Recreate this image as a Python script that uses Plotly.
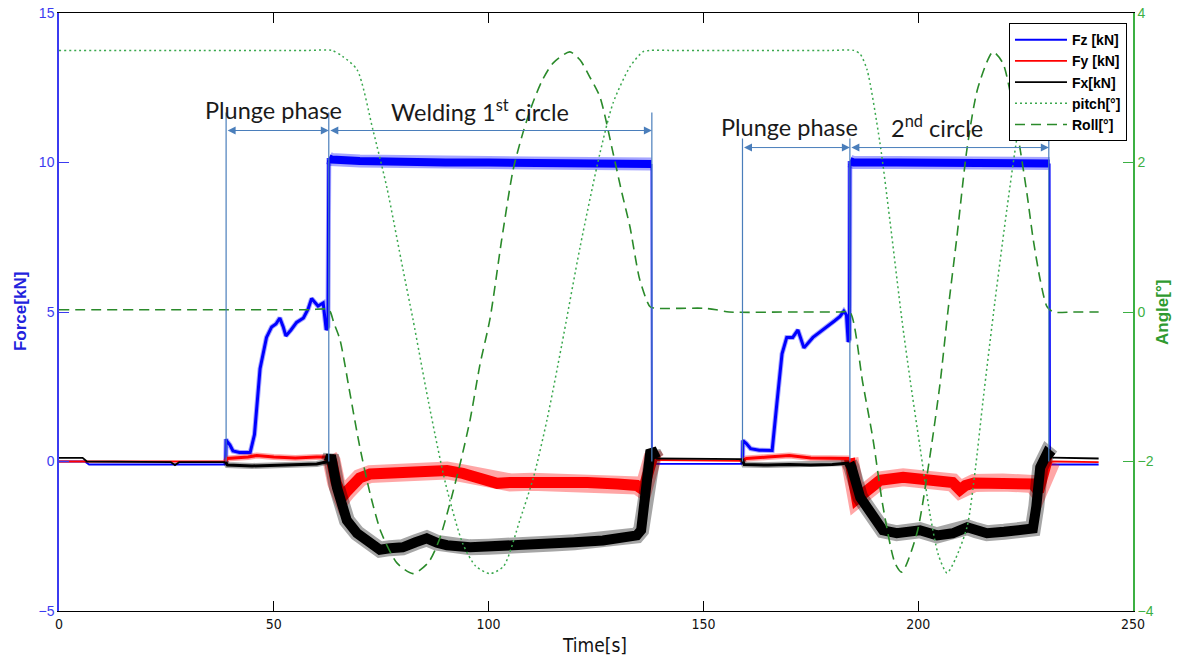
import plotly.graph_objects as go

# ---------------- data ----------------
fz_t = [0, 6, 7, 38.8, 38.9, 39.0, 39.8, 40.5, 42, 44.5, 45.5, 46, 46.8, 48.3, 49.5, 50.5,
        51.4, 52.2, 52.8, 54, 55.3, 56.9, 58, 58.8, 60.3, 61.5, 62.2, 62.6, 62.8, 63.5, 70,
        80, 90, 100, 110, 120, 130, 137.9, 138.0, 138.2, 150, 159.1, 159.2, 160, 161, 163,
        166, 167.1, 168.3, 169.4, 170.8, 172, 173.4, 175.5, 178.8, 180.5, 181.8, 182.7,
        183.3, 183.7, 184.0, 184.1, 185, 195, 205, 215, 225, 230.6, 230.7, 230.9, 242]
fz_v = [0.0, 0.0, -0.1, -0.1, 0.75, 0.7, 0.55, 0.35, 0.3, 0.3, 0.9, 1.8, 3.1, 4.15, 4.5, 4.6,
        4.8, 4.5, 4.2, 4.4, 4.65, 4.8, 5.1, 5.45, 5.2, 5.3, 4.4, 4.5, 10.15, 10.1, 10.05,
        10.0, 10.0, 10.0, 9.98, 9.98, 9.97, 9.95, -0.05, -0.08, -0.08, -0.08, 0.7, 0.6, 0.43, 0.38,
        0.37, 1.94, 3.6, 4.15, 4.15, 4.4, 3.8, 4.15, 4.5, 4.7, 4.85, 5.03,
        4.9, 4.0, 4.1, 10.05, 10.0, 10.0, 9.98, 9.98, 9.97, 9.97, -0.05, -0.1, -0.1]

fy_t = [0, 38.8, 39.2, 44, 46, 50, 55, 60, 62.8, 63.5, 64.5, 65.9, 67, 68.5, 70, 72.4, 76, 80,
        85, 90.3, 94, 97.3, 100, 102, 105, 110, 115, 123, 130, 134.5, 136, 138.3, 139, 159,
        160, 165, 170, 175, 180, 184.0, 184.5, 185.7, 187, 188.8, 191.1, 196.5, 202, 208,
        209.7, 211, 213, 219.7, 226.7, 228, 230, 231, 242]
fy_v = [0.0, 0.0, 0.1, 0.15, 0.2, 0.15, 0.12, 0.15, 0.15, 0.0, -0.7, -1.2, -1.0, -0.73, -0.55,
        -0.42, -0.38, -0.4, -0.35, -0.3, -0.4, -0.53, -0.65, -0.73, -0.7, -0.68, -0.7, -0.7,
        -0.75, -0.8, -0.95, 0.2, 0.05, 0.02, 0.1, 0.15, 0.2, 0.12, 0.1, 0.1, -0.3, -1.25, -1.1,
        -0.87, -0.63, -0.53, -0.6, -0.7, -0.95, -0.8, -0.72, -0.7, -0.75, -1.0, 0.03, 0.0, -0.02]

fx_t = [0, 5.5, 6.5, 26, 27, 28, 38.8, 39.2, 45, 50, 55, 60, 62.8, 63.3, 64.7, 67, 69.4, 72.4,
        74.7, 77, 80, 83, 85.6, 88, 90.3, 95.7, 100, 103.4, 110, 115, 120, 126.6, 132, 134.5,
        135.5, 137.6, 138.3, 139, 159, 159.5, 165, 170, 175, 180, 184.0, 184.5, 186.5, 188.8,
        191.8, 195, 200.4, 204.4, 208, 211.4, 213.5, 216, 220, 223.7, 226.7, 227.5, 228.4,
        230, 231.2, 242]
fx_v = [0.12, 0.12, 0.0, -0.02, -0.12, -0.02, -0.02, -0.12, -0.15, -0.12, -0.1, -0.08, 0.0, 0.2,
        -0.87, -1.97, -2.4, -2.74, -2.95, -2.9, -2.87, -2.7, -2.57, -2.72, -2.8, -2.87, -2.85,
        -2.8, -2.77, -2.74, -2.7, -2.64, -2.55, -2.47, -2.3, 0.27, 0.3, 0.1, 0.08, -0.1, -0.12,
        -0.1, -0.12, -0.1, -0.05, -0.2, -1.2, -1.64, -2.3, -2.4, -2.3, -2.47, -2.4, -2.2, -2.3,
        -2.4, -2.35, -2.3, -2.24, -1.5, -0.2, 0.27, 0.13, 0.1]

pitch_t = [0, 30, 58, 63.5, 66, 69.4, 73.1, 76.3, 80.1, 82.4, 86, 90, 94, 97, 100.3, 103.5,
           107.3, 110.5, 113.6, 117, 121.3, 125.9, 129, 132.9, 135.9, 137.5, 142, 160, 180, 185,
           186.5, 188.1, 191.1, 193.4, 196.2, 198.1, 200.4, 202.7, 204.7, 206.7, 208.7, 211.4,
           213.3, 215.1, 217.9, 220.7, 223, 225.3, 227.3, 229, 234, 242]
pitch_v = [3.5, 3.5, 3.5, 3.5, 3.42, 3.24, 2.43, 1.67, 0.56, -0.1, -1.2, -2.3, -3.1, -3.4, -3.5,
           -3.4, -2.78, -2.2, -1.44, -0.45, 0.87, 2.12, 2.8, 3.28, 3.48, 3.5, 3.5, 3.5, 3.5, 3.5,
           3.45, 3.24, 2.26, 1.23, -0.1, -0.9, -1.8, -2.69, -3.25, -3.49, -3.3, -2.87,
           -2.1, -1.18, 0.16, 1.4, 2.34, 3.1, 3.45, 3.5, 3.5, 3.5]

roll_t = [0, 30, 58, 62.8, 64, 65.4, 67.7, 70, 72.5, 75, 78.7, 82.4, 86, 88.5, 91, 93.5, 95.7,
          98, 100.3, 103, 105.7, 108, 110.3, 112.5, 115, 118.9, 121.3, 123.5, 125.9, 129, 131,
          132.9, 135.2, 137.6, 139, 150, 153, 156, 170, 182, 184.1, 187.1, 189.5, 191.8, 194.6,
          196.2, 199.7, 202.7, 205.1, 206.9, 209, 211.4, 213.9, 217.4, 219.7, 222.5, 225.3,
          226.7, 228.4, 230, 231.5, 236, 242]
roll_v = [0.03, 0.03, 0.03, 0.03, -0.15, -0.37, -1.08, -1.8, -2.45, -2.95, -3.36, -3.5, -3.35,
          -3.05, -2.56, -2.0, -1.44, -0.7, -0.1, 0.95, 1.9, 2.4, 2.8, 3.1, 3.33, 3.48, 3.37,
          3.15, 2.88, 2.12, 1.6, 1.14, 0.43, 0.07, 0.05, 0.05, 0.03, 0.0, 0.0, 0.0, 0.0, -0.95,
          -1.71, -2.6, -3.36, -3.48, -2.96, -1.94, -0.95, 0.0, 1.0, 2.2, 3.0, 3.48, 3.33, 2.6,
          1.59, 1.0, 0.43, 0.07, 0.0, 0.0, 0.0]

# phase boundaries (s) and annotation labels
phase_t = [38.9, 62.8, 138.0, 159.1, 184.1, 230.4]
phase_labels = ["Plunge phase", "Welding 1<sup>st</sup> circle", "Plunge phase",
                "2<sup>nd</sup> circle"]
x_ticks = [0, 50, 100, 150, 200, 250]
y_ticks = [-5, 0, 5, 10, 15]
y2_ticks = [-4, -2, 0, 2, 4]

# ---------------- styles ----------------
BLUE = "rgba(0,0,255,{a})"
RED = "rgba(255,0,0,{a})"
BLACK = "rgba(0,0,0,{a})"
PITCH_C = "#3aa84e"
ROLL_C = "#2a8a2a"
AXIS_BLUE = "#3b3bf0"
AXIS_GREEN = "#3cb043"
ANN_C = "#4a7ebb"

# (t0, t1, core width, halo width)
fz_seg = [(0, 38.8, 1.8, 0), (38.8, 62.8, 3, 5), (62.8, 137.9, 8, 13), (137.9, 159.1, 1.8, 0),
          (159.1, 184.1, 3, 5), (184.1, 230.6, 8, 13), (230.6, 242, 1.8, 0)]
fy_seg = [(0, 38.8, 1.8, 0), (38.8, 62.8, 3, 6), (62.8, 139, 11, 18), (139, 159, 1.8, 0),
          (159, 184.0, 3, 6), (184.0, 231, 11, 18), (231, 242, 1.8, 0)]
fx_seg = [(0, 38.8, 1.8, 0), (38.8, 62.8, 3, 6), (62.8, 139, 10, 16), (139, 159, 1.8, 0),
          (159, 184.0, 3, 6), (184.0, 231.2, 10, 16), (231.2, 242, 1.8, 0)]

fig = go.Figure()


def add_segments(t, v, segs, name, color):
    first = True
    for (t0, t1, w, halo) in segs:
        xs = [a for a in t if t0 <= a <= t1]
        ys = [b for a, b in zip(t, v) if t0 <= a <= t1]
        if halo:
            fig.add_trace(go.Scatter(x=xs, y=ys, mode="lines", name=name, legendgroup=name,
                                     showlegend=False,
                                     line=dict(color=color.format(a=0.35), width=halo),
                                     hoverinfo="skip"))
        fig.add_trace(go.Scatter(x=xs, y=ys, mode="lines", name=name, legendgroup=name,
                                 showlegend=first, line=dict(color=color.format(a=1), width=w),
                                 hoverinfo="skip"))
        first = False


add_segments(fz_t, fz_v, fz_seg, "Fz [kN]", BLUE)
add_segments(fy_t, fy_v, fy_seg, "Fy [kN]", RED)
add_segments(fx_t, fx_v, fx_seg, "Fx[kN]", BLACK)

fig.add_trace(go.Scatter(x=pitch_t, y=pitch_v, mode="lines", name="pitch[°]", yaxis="y2",
                         line=dict(color=PITCH_C, width=1.5, dash="2px,3px", shape="spline",
                                   smoothing=0.7)))
fig.add_trace(go.Scatter(x=roll_t, y=roll_v, mode="lines", name="Roll[°]", yaxis="y2",
                         line=dict(color=ROLL_C, width=1.6, dash="10px,6px", shape="spline",
                                   smoothing=0.7)))

# phase boundary lines
tops = [11.67, 11.67, 11.67, 10.8, 10.8, 10.8]
shapes = []
for tx, top in zip(phase_t, tops):
    shapes.append(dict(type="line", xref="x", yref="y", x0=tx, x1=tx, y0=0, y1=top,
                       line=dict(color=ANN_C, width=1.2)))

annotations = []
arrow_rows = [(phase_t[0], phase_t[1], 11.07), (phase_t[1], phase_t[2], 11.07),
              (phase_t[3], phase_t[4], 10.5), (phase_t[4], phase_t[5], 10.5)]
for a0, a1, ay in arrow_rows:
    annotations.append(dict(x=a1, y=ay, ax=a0, ay=ay, xref="x", yref="y", axref="x",
                            ayref="y", text="", showarrow=True, arrowhead=2,
                            startarrowhead=2, arrowside="end+start", arrowsize=1.6,
                            startarrowsize=1.6, arrowwidth=1, arrowcolor=ANN_C))

label_pos = [(50.0, 11.74), (98.0, 11.74), (170.0, 11.2), (204.4, 11.2)]
for (lx, ly), txt in zip(label_pos, phase_labels):
    annotations.append(dict(x=lx, y=ly, xref="x", yref="y", text=txt, showarrow=False,
                            xanchor="center", yanchor="middle",
                            font=dict(family="Lato, Open Sans, sans-serif", size=23.5,
                                      color="#1a1a1a")))

# axis titles
annotations.append(dict(x=-0.0363, y=0.5, xref="paper", yref="paper", text="<b>Force[kN]</b>",
                        textangle=-90, showarrow=False, xanchor="center", yanchor="middle",
                        font=dict(family="Liberation Sans, Arial", size=17, color="#2222dd")))
annotations.append(dict(x=1.027, y=0.5, xref="paper", yref="paper", text="<b>Angle[°]</b>",
                        textangle=-90, showarrow=False, xanchor="center", yanchor="middle",
                        font=dict(family="Liberation Sans, Arial", size=17, color="#2f9a2f")))
annotations.append(dict(x=0.499, y=-0.057, xref="paper", yref="paper", text="Time[s]",
                        showarrow=False, xanchor="center", yanchor="middle",
                        font=dict(family="Liberation Sans Narrow, DejaVu Sans Condensed, Arial",
                                  size=19, color="#111111")))

fig.update_layout(
    width=1178, height=657,
    margin=dict(l=59, r=45, t=13, b=46, autoexpand=False),
    paper_bgcolor="white", plot_bgcolor="white",
    showlegend=True,
    legend=dict(x=0.9944, y=0.983, xanchor="right", yanchor="top", bgcolor="white",
                bordercolor="black", borderwidth=1, tracegroupgap=0, itemwidth=52,
                font=dict(family="Liberation Sans, Arial", size=14, color="black",
                          weight="bold")),
    xaxis=dict(range=[0, 250], tickvals=x_ticks, ticks="inside", ticklen=10, tickcolor="black",
               showline=True, linecolor="black", linewidth=1.2, mirror="ticks",
               showgrid=False, zeroline=False, automargin=False,
               tickfont=dict(family="Liberation Sans Narrow, DejaVu Sans Condensed, Arial",
                             size=14, color="#111111")),
    yaxis=dict(range=[-5, 15], tickvals=y_ticks, ticks="inside", ticklen=10, tickcolor=AXIS_BLUE,
               showline=True, linecolor=AXIS_BLUE, linewidth=1.5, showgrid=False,
               zeroline=False, automargin=False,
               tickfont=dict(family="Liberation Sans, Arial", size=14, color=AXIS_BLUE)),
    yaxis2=dict(range=[-4, 4], tickvals=y2_ticks, ticks="inside", ticklen=10,
                tickcolor=AXIS_GREEN, overlaying="y", side="right", showline=True,
                linecolor=AXIS_GREEN, linewidth=1.5, showgrid=False, zeroline=False,
                automargin=False,
                tickfont=dict(family="Liberation Sans, Arial", size=14, color=AXIS_GREEN)),
    shapes=shapes,
    annotations=annotations,
)

fig.write_html("out.html", config={"displayModeBar": False},
               post_script="document.body.style.margin='0px';")
